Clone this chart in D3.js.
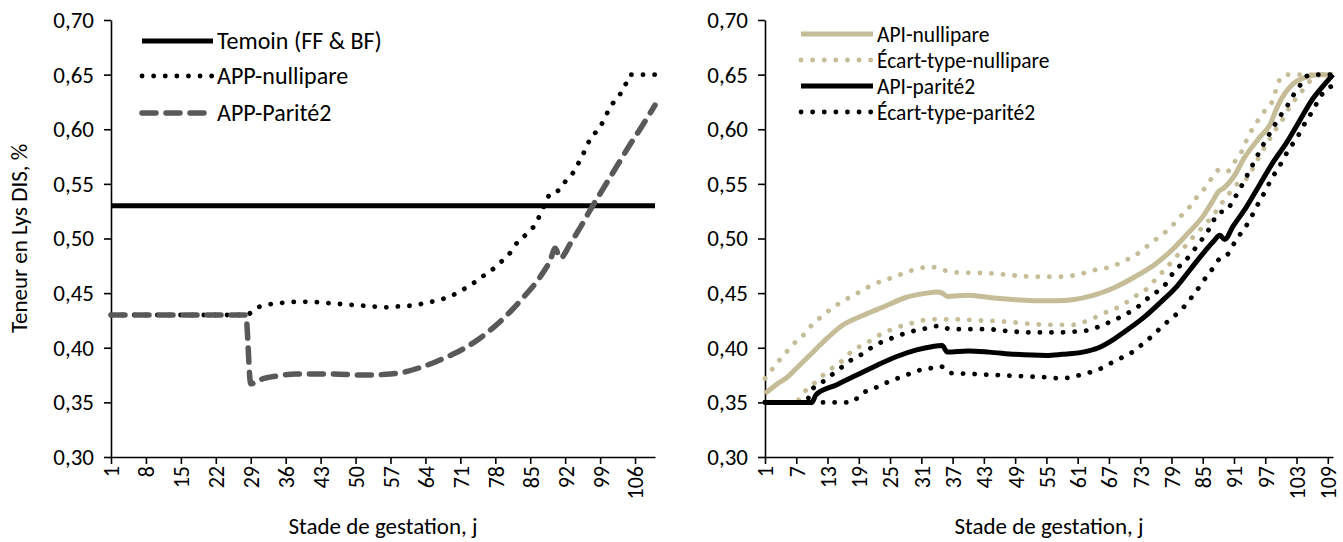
<!DOCTYPE html>
<html>
<head>
<meta charset="utf-8">
<script src="https://cdn.jsdelivr.net/npm/d3@7"></script>
<style>
  body { margin: 0; background: #fff; }
  svg text { font-family: Carlito, Calibri, Lato, "Liberation Sans Narrow", sans-serif; fill: #000; }
</style>
</head>
<body>
<div id="chart-container"></div>
<script>
// ---- data (day, value) ----
const leftTicks = [1, 8, 15, 22, 29, 36, 43, 50, 57, 64, 71, 78, 85, 92, 99, 106];
const rightTicks = [1, 7, 13, 19, 25, 31, 37, 43, 49, 55, 61, 67, 73, 79, 85, 91, 97, 103, 109];
const yTicks = [0.30, 0.35, 0.40, 0.45, 0.50, 0.55, 0.60, 0.65, 0.70];

const temoin = [[1, 0.53], [110, 0.53]];

const appNullipare = [[1, 0.43], [28, 0.43], [29, 0.432], [30, 0.436], [32, 0.439], [35, 0.441], [38, 0.442], [41, 0.442],
  [44, 0.441], [47, 0.440], [50, 0.439], [53, 0.438], [56, 0.437], [59, 0.438], [62, 0.439], [64, 0.441], [67, 0.444],
  [69, 0.447], [71, 0.452], [73, 0.457], [75, 0.464], [77, 0.470], [79, 0.478], [81, 0.487], [82, 0.494], [84, 0.503],
  [86, 0.513], [87, 0.522], [88, 0.532], [89, 0.541], [91, 0.545], [92, 0.552], [94, 0.563], [95, 0.572], [96, 0.581],
  [97, 0.591], [99, 0.602], [100, 0.611], [101, 0.620], [103, 0.632], [104, 0.640], [105, 0.65], [110, 0.65]];

const appParite2 = [[1, 0.43], [28, 0.43], [29, 0.367], [31, 0.371], [34, 0.374], [38, 0.376], [45, 0.376], [52, 0.375],
  [57, 0.376], [60, 0.378], [63, 0.382], [66, 0.387], [69, 0.393], [72, 0.400], [75, 0.409], [78, 0.420], [81, 0.433],
  [84, 0.448], [87, 0.465], [89, 0.480], [90, 0.491], [91, 0.482], [93, 0.495], [95, 0.510], [97, 0.526], [99, 0.541],
  [101, 0.556], [103, 0.571], [105, 0.586], [107, 0.600], [110, 0.622]];

const apiNullipare = [[1, 0.358], [4, 0.369], [5, 0.372], [7, 0.381], [10, 0.395], [13, 0.409], [16, 0.421], [20, 0.430],
  [24, 0.438], [28, 0.446], [32, 0.450], [34, 0.451], [35, 0.450], [36, 0.447], [40, 0.448], [44, 0.446], [49, 0.444],
  [53, 0.443], [57, 0.443], [60, 0.444], [64, 0.448], [68, 0.455], [72, 0.465], [76, 0.477], [79, 0.489], [82, 0.504],
  [85, 0.520], [87, 0.535], [88, 0.543], [89, 0.546], [91, 0.557], [93, 0.574], [96, 0.593], [98, 0.605], [99, 0.617],
  [100, 0.627], [102, 0.640], [105, 0.648], [107, 0.65], [110, 0.65]];

const sdNulliUp = [[1, 0.372], [2.5, 0.381], [4, 0.390], [5.5, 0.398], [7, 0.406], [8.7, 0.413], [10.2, 0.422], [12, 0.429],
  [13.8, 0.436], [15.7, 0.442], [17.6, 0.447], [19.9, 0.453], [21.8, 0.458], [24.1, 0.462], [26.4, 0.466], [28.6, 0.470],
  [30.8, 0.473], [33, 0.474], [35.3, 0.471], [37.5, 0.469], [44.6, 0.468], [49.3, 0.466], [53.7, 0.465], [58, 0.465],
  [61, 0.467], [65, 0.472], [67.4, 0.474], [69.7, 0.479], [71.9, 0.484], [73.8, 0.491], [75.7, 0.498], [77.6, 0.505],
  [79.2, 0.512], [80.9, 0.521], [82.5, 0.529], [83.9, 0.538], [85.4, 0.546], [86.7, 0.555], [88.2, 0.563], [89.6, 0.561],
  [91.1, 0.570], [92.4, 0.579], [93.4, 0.590], [94.6, 0.601], [95.9, 0.610], [97.2, 0.619], [98.5, 0.627], [99.1, 0.637],
  [100.1, 0.648], [101, 0.65], [110, 0.65]];

const sdNulliLow = [[1, 0.35], [7, 0.35], [8, 0.357], [9.6, 0.364], [11.3, 0.371], [12.9, 0.378], [14.7, 0.384],
  [16.3, 0.390], [17.9, 0.398], [20.1, 0.403], [22, 0.409], [24.4, 0.415], [26.6, 0.419], [28.8, 0.422], [31.1, 0.425],
  [33.3, 0.426], [37.6, 0.426], [42.1, 0.425], [46.9, 0.424], [51.7, 0.422], [56, 0.421], [60, 0.421], [63.5, 0.426],
  [66.7, 0.433], [69.2, 0.438], [72, 0.447], [74.3, 0.454], [76.2, 0.464], [77.8, 0.472], [81.3, 0.491], [82.9, 0.500],
  [84.5, 0.508], [85.9, 0.515], [87.3, 0.523], [88.6, 0.532], [89.9, 0.540], [91.3, 0.549], [92.7, 0.551], [94.1, 0.560],
  [95.3, 0.570], [96.3, 0.579], [97.6, 0.589], [98.9, 0.599], [100.2, 0.608], [101.4, 0.618], [102.7, 0.627],
  [103.9, 0.634], [105.2, 0.642], [106.5, 0.648], [108, 0.65], [110, 0.65]];

const apiParite2 = [[1, 0.35], [10, 0.35], [10.8, 0.357], [14.7, 0.366], [18.6, 0.375], [22.5, 0.384], [26.3, 0.392],
  [30.1, 0.398], [33, 0.401], [35, 0.402], [36, 0.396], [40, 0.397], [44, 0.396], [49, 0.394], [55, 0.393], [58, 0.394],
  [62, 0.396], [65, 0.400], [68, 0.408], [71, 0.418], [74, 0.429], [77, 0.442], [80, 0.456], [82.5, 0.471], [85, 0.486],
  [87, 0.497], [88.3, 0.503], [89.2, 0.499], [90.8, 0.511], [93.4, 0.529], [95.9, 0.549], [98.4, 0.569], [101, 0.587],
  [103.5, 0.607], [106, 0.627], [108, 0.639], [110, 0.65]];

const sdPar2Up = [[1, 0.35], [9, 0.35], [9.7, 0.360], [11.6, 0.367], [13.5, 0.374], [15.4, 0.381], [17.3, 0.388],
  [19.2, 0.393], [21.4, 0.400], [23.3, 0.405], [25.5, 0.409], [27.8, 0.413], [30, 0.416], [32.2, 0.418], [34.4, 0.420],
  [36.6, 0.417], [43.6, 0.417], [48.2, 0.415], [52.8, 0.414], [57, 0.414], [61, 0.415], [63, 0.416], [65.4, 0.420],
  [67.4, 0.424], [70.4, 0.431], [72.7, 0.438], [74.9, 0.447], [76.7, 0.453], [78.2, 0.460], [79.5, 0.470], [81.1, 0.477],
  [82.8, 0.486], [84.3, 0.496], [85.8, 0.505], [86.9, 0.515], [88.2, 0.524], [89.5, 0.525], [90.7, 0.534], [92, 0.544],
  [93.1, 0.554], [94.2, 0.564], [95.3, 0.574], [96.4, 0.584], [97.6, 0.594], [98.7, 0.603], [100, 0.613], [101.3, 0.622],
  [102.5, 0.632], [103.8, 0.641], [105.1, 0.649], [106, 0.65], [110, 0.65]];

const sdPar2Low = [[1, 0.35], [17.6, 0.35], [19.5, 0.358], [21.6, 0.362], [23.8, 0.367], [25.9, 0.371], [28.1, 0.375],
  [30.3, 0.379], [32.5, 0.381], [34.7, 0.383], [36.4, 0.377], [41, 0.376], [45.7, 0.375], [50.4, 0.374], [55, 0.373],
  [58, 0.372], [60.5, 0.374], [63, 0.377], [65, 0.380], [67.4, 0.386], [69.5, 0.391], [71.5, 0.396], [73.6, 0.404],
  [75.6, 0.412], [77.3, 0.420], [79.3, 0.428], [81.5, 0.438], [83, 0.447], [84.4, 0.456], [85.7, 0.465], [87, 0.473],
  [88.3, 0.482], [89.9, 0.486], [91.2, 0.497], [92.5, 0.506], [93.8, 0.515], [94.9, 0.525], [96, 0.535], [97.2, 0.545],
  [98.2, 0.555], [99.5, 0.564], [100.6, 0.574], [101.9, 0.584], [103.2, 0.593], [104.3, 0.603], [105.6, 0.613],
  [106.8, 0.623], [107.9, 0.632], [110, 0.640]];

const TAN = '#c4bd97';
const GREY = '#595959';

const styles = {
  solid: { dash: null, width: 5 },
  dot: { dash: '0.1 11.5', width: 4.8 },
  dash: { dash: '14 10', width: 5.5 }
};

const leftSeries = [
  { name: 'Temoin (FF & BF)', data: temoin, color: '#000', style: 'solid' },
  { name: 'APP-nullipare', data: appNullipare, color: '#000', style: 'dot' },
  { name: 'APP-Parité2', data: appParite2, color: GREY, style: 'dash' }
];

const rightSeries = [
  { name: 'API-nullipare', data: apiNullipare, color: TAN, style: 'solid', legend: true },
  { name: 'Écart-type-nullipare', data: sdNulliUp, color: TAN, style: 'dot', legend: true },
  { name: 'Écart-type-nullipare', data: sdNulliLow, color: TAN, style: 'dot', legend: false },
  { name: 'API-parité2', data: apiParite2, color: '#000', style: 'solid', legend: true },
  { name: 'Écart-type-parité2', data: sdPar2Up, color: '#000', style: 'dot', legend: true },
  { name: 'Écart-type-parité2', data: sdPar2Low, color: '#000', style: 'dot', legend: false }
];

const width = 1343, height = 542;
const svg = d3.select('#chart-container')
  .append('svg')
  .attr('width', width)
  .attr('height', height);

const fmt = d => d3.format('.2f')(d).replace('.', ',');

const drawPanel = (opts) => {
  const { x0, x1, series, ticks, legend, yTitle } = opts;
  const top = 20, bottom = 457;

  const xScale = d3.scaleLinear().domain([1, 110]).range([x0, x1]);
  const yScale = d3.scaleLinear().domain([0.30, 0.70]).range([bottom, top]);

  const g = svg.append('g');

  // x axis
  const xAxis = g.append('g')
    .attr('transform', `translate(0,${bottom})`)
    .call(d3.axisBottom(xScale).tickValues(ticks).tickSize(7).tickSizeOuter(0).tickFormat(d3.format('d')));
  xAxis.select('.domain').attr('stroke', '#000').attr('stroke-width', 1.6);
  xAxis.selectAll('.tick line').attr('stroke', '#000').attr('stroke-width', 1.6);
  xAxis.selectAll('.tick text')
    .attr('font-size', 22)
    .attr('transform', 'rotate(-90)')
    .attr('x', -9)
    .attr('y', 0)
    .attr('dy', '0.36em')
    .attr('text-anchor', 'end');

  // y axis
  const yAxis = g.append('g')
    .attr('transform', `translate(${x0},0)`)
    .call(d3.axisLeft(yScale).tickValues(yTicks).tickSize(7).tickSizeOuter(0).tickFormat(fmt));
  yAxis.select('.domain').attr('stroke', '#000').attr('stroke-width', 1.6);
  yAxis.selectAll('.tick line').attr('stroke', '#000').attr('stroke-width', 1.6);
  yAxis.selectAll('.tick text').attr('font-size', 23).attr('x', -17);

  const line = d3.line()
    .x(d => xScale(d[0]))
    .y(d => yScale(d[1]))
    .curve(d3.curveMonotoneX);

  series.forEach(s => {
    const st = styles[s.style];
    g.append('path')
      .datum(s.data)
      .attr('fill', 'none')
      .attr('stroke', s.color)
      .attr('stroke-width', st.width)
      .attr('stroke-linecap', s.style === 'solid' ? 'butt' : 'round')
      .attr('stroke-linejoin', 'round')
      .attr('stroke-dasharray', st.dash)
      .attr('d', line);
  });

  // legend
  const lg = g.append('g');
  series.filter(s => s.legend !== false).forEach((s, i) => {
    const st = styles[s.style];
    const y = legend.y[i];
    lg.append('line')
      .attr('x1', legend.x).attr('x2', legend.x + legend.len)
      .attr('y1', y).attr('y2', y)
      .attr('stroke', s.color)
      .attr('stroke-width', st.width)
      .attr('stroke-linecap', s.style === 'solid' ? 'butt' : 'round')
      .attr('stroke-dasharray', st.dash);
    lg.append('text')
      .attr('x', legend.x + legend.len + 4)
      .attr('y', y)
      .attr('dy', '0.35em')
      .attr('font-size', legend.size)
      .text(s.name);
  });

  // axis titles
  g.append('text')
    .attr('x', (x0 + x1) / 2)
    .attr('y', 534)
    .attr('text-anchor', 'middle')
    .attr('font-size', 23)
    .text('Stade de gestation, j');

  if (yTitle) {
    g.append('text')
      .attr('transform', `translate(27,${(top + bottom) / 2}) rotate(-90)`)
      .attr('text-anchor', 'middle')
      .attr('font-size', 23)
      .text(yTitle);
  }
};

drawPanel({
  x0: 111, x1: 655, series: leftSeries, ticks: leftTicks,
  legend: { x: 142, len: 71, y: [41, 76, 113], size: 24 },
  yTitle: 'Teneur en Lys DIS, %'
});

drawPanel({
  x0: 765, x1: 1333, series: rightSeries, ticks: rightTicks,
  legend: { x: 801, len: 72, y: [34, 60, 86, 112], size: 21.5 },
  yTitle: null
});
</script>
</body>
</html>
